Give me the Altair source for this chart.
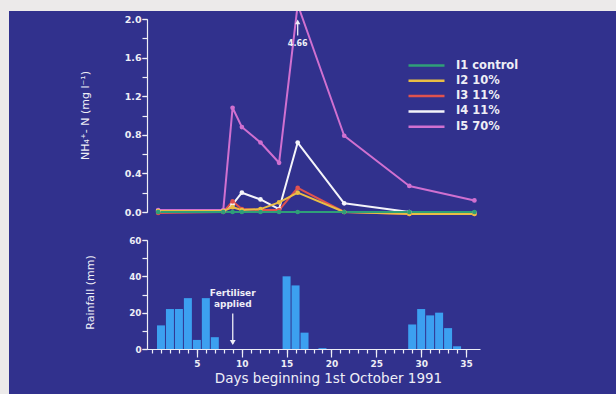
import altair as alt
import pandas as pd

# ---------------- data ----------------
days = [1, 8, 9, 10, 12, 14, 16, 21, 28, 35]
i1_control = [0.0, 0.0, 0.0, 0.0, 0.0, 0.0, 0.0, 0.0, 0.0, 0.0]
i2_10 = [0.01, 0.01, 0.05, 0.02, 0.03, 0.10, 0.20, 0.0, -0.02, -0.02]
i3_11 = [-0.01, 0.0, 0.11, 0.03, 0.02, 0.02, 0.25, 0.0, -0.02, -0.02]
i4_11 = [0.01, 0.01, 0.08, 0.20, 0.13, 0.03, 0.72, 0.09, 0.0, -0.01]
i5_70 = [0.02, 0.02, 1.08, 0.88, 0.72, 0.51, 2.15, 0.79, 0.27, 0.12]  # day-16 peak drawn off-scale
series_names = ["I1 control", "I2 10%", "I3 11%", "I4 11%", "I5 70%"]
series_values = [i1_control, i2_10, i3_11, i4_11, i5_70]
peak_label = "4.66"

rain_days = [1, 2, 3, 4, 5, 6, 7, 15, 16, 17, 19, 29, 30, 31, 32, 33, 34]
rain_mm = [13, 22, 22, 28, 5, 28, 6.5, 40, 35, 9, 0.5, 13.5, 22, 18.5, 20, 11.5, 1.5]

nh4_major = [0.0, 0.4, 0.8, 1.2, 1.6, 2.0]
nh4_minor = [0.0, 0.2, 0.4, 0.6, 0.8, 1.0, 1.2, 1.4, 1.6, 1.8, 2.0]
rain_major = [0, 20, 40, 60]
rain_minor = [0, 10, 20, 30, 40, 50, 60]
day_major = [5, 10, 15, 20, 25, 30, 35]
day_minor = list(range(0, 36))

fert_day = 9
fert_label = "Fertiliser\napplied"

# ---------------- styles ----------------
BG = "#31318d"
FG = "#eeeef6"
FRAME = "#eceaea"
FONT = "DejaVu Sans"
series_colors = ["#2f9f78", "#e9bd45", "#e0524e", "#f4f4fa", "#d070d0"]
BAR = "#3ca0f0"

rows = []
for name, vals in reversed(list(zip(series_names, series_values))):
    for d, v in zip(days, vals):
        rows.append({"day": d, "value": v, "series": name})
nh4 = pd.DataFrame(rows)
rain = pd.DataFrame({"day": rain_days, "mm": rain_mm})

x_up = alt.Scale(domain=[-0.2, 35.6], nice=False, zero=False)
x_low = alt.Scale(domain=[0, 36], nice=False, zero=False)
y_up = alt.Scale(domain=[0, 2], nice=False, zero=False)
y_low = alt.Scale(domain=[0, 60], nice=False, zero=False)

axis_style = dict(domainColor=FG, tickColor=FG, labelColor=FG, titleColor=FG,
                  domainWidth=1.2, tickWidth=1.2, grid=False, labelOverlap=False,
                  labelFont=FONT, titleFont=FONT, labelFontWeight="bold",
                  titleFontWeight="normal")

# ---------------- upper panel ----------------
lines = alt.Chart(nh4).mark_line(
    strokeWidth=2, strokeJoin="round",
    point=alt.OverlayMarkDef(filled=True, size=22, opacity=1)
).encode(
    x=alt.X("day:Q", scale=x_up, axis=None),
    y=alt.Y("value:Q", scale=y_up, axis=alt.Axis(
        orient="left", values=nh4_major, format=".1f",
        tickSize=5, labelPadding=1, labelFontSize=9.5,
        title="NH₄⁺- N (mg l⁻¹)", titleFontSize=11, titleX=-62, titleY=96,
        titleBaseline="middle", titleAlign="center", **axis_style)),
    color=alt.Color("series:N", scale=alt.Scale(domain=series_names, range=series_colors),
                    legend=alt.Legend(orient="none", legendX=260, legendY=40, title=None,
                                      symbolType="stroke", symbolSize=1296, symbolStrokeWidth=2.5,
                                      symbolOpacity=1, labelFont=FONT, labelFontSize=11.5,
                                      labelFontWeight="bold", labelColor=FG, clipHeight=13,
                                      rowPadding=2.3, labelOffset=10, padding=0)),
)

up_minor = alt.Chart(nh4).mark_point(opacity=0).encode(
    x=alt.X("day:Q", scale=x_up, axis=None),
    y=alt.Y("value:Q", scale=y_up, axis=alt.Axis(
        orient="left", values=nh4_minor, tickSize=5, labels=False, domain=False,
        title=None, **axis_style)),
)

peak = pd.DataFrame({"day": [16], "label": [peak_label]})
xp = alt.X("day:Q", scale=x_up, axis=None)
peak_stem = alt.Chart(peak).mark_rule(color=FG, strokeWidth=1.3).encode(
    x=xp, y=alt.datum(1.83, scale=y_up, axis=None), y2=alt.datum(1.96))
peak_head = alt.Chart(peak).mark_point(shape="triangle-up", filled=True, size=28,
                                       color=FG, opacity=1).encode(
    x=xp, y=alt.datum(1.97, scale=y_up, axis=None))
peak_text = alt.Chart(peak).mark_text(font=FONT, fontSize=8, fontWeight="bold",
                                      color=FG, baseline="middle").encode(
    x=xp, y=alt.datum(1.74, scale=y_up, axis=None), text="label:N")

frame = alt.Chart(pd.DataFrame({"k": [0]})).mark_rect(color=FRAME)
top_band = frame.encode(x=alt.value(-147), x2=alt.value(469), y=alt.value(-19), y2=alt.value(-8))
left_band = frame.encode(x=alt.value(-147), x2=alt.value(-138), y=alt.value(-19), y2=alt.value(375))

upper = alt.layer(lines, up_minor, peak_stem, peak_head, peak_text, top_band, left_band
                  ).resolve_axis(y="independent").properties(width=333, height=193)

# ---------------- lower panel ----------------
bars = alt.Chart(rain).mark_bar(size=8, color=BAR).encode(
    x=alt.X("day:Q", scale=x_low, axis=alt.Axis(
        orient="bottom", values=day_major,
        tickSize=8, labelPadding=2, labelFontSize=9, domain=False,
        title="Days beginning 1st October 1991", titleFontSize=13.5,
        titleX=181, titleY=22, titleBaseline="top", titleAlign="center", **axis_style)),
    y=alt.Y("mm:Q", scale=y_low, axis=alt.Axis(
        orient="left", values=rain_major,
        tickSize=5, labelPadding=1, labelFontSize=8.8,
        title="Rainfall (mm)", titleFontSize=11, titleX=-57, titleY=52,
        titleBaseline="middle", titleAlign="center", **axis_style)),
)

low_minor = alt.Chart(rain).mark_point(opacity=0).encode(
    x=alt.X("day:Q", scale=x_low, axis=alt.Axis(
        orient="bottom", values=day_minor, tickSize=4, labels=False, title=None, **axis_style)),
    y=alt.Y("mm:Q", scale=y_low, axis=alt.Axis(
        orient="left", values=rain_minor, tickSize=5, labels=False, domain=False,
        title=None, **axis_style)),
)

fert = pd.DataFrame({"day": [fert_day], "label": [fert_label]})
xf = alt.X("day:Q", scale=x_low, axis=None)
fert_stem = alt.Chart(fert).mark_rule(color=FG, strokeWidth=1.3).encode(
    x=xf, y=alt.datum(19.5, scale=y_low, axis=None), y2=alt.datum(3))
fert_head = alt.Chart(fert).mark_point(shape="triangle-down", filled=True, size=34,
                                       color=FG, opacity=1).encode(
    x=xf, y=alt.datum(3.6, scale=y_low, axis=None))
fert_text = alt.Chart(fert).mark_text(font=FONT, fontSize=9, fontWeight="bold", color=FG,
                                      baseline="middle", lineBreak="\n", lineHeight=11).encode(
    x=xf, y=alt.datum(31, scale=y_low, axis=None), text="label:N")

lower = alt.layer(bars, low_minor, fert_stem, fert_head, fert_text).resolve_axis(
    x="independent", y="independent").properties(width=333, height=109)

chart = alt.vconcat(upper, lower, spacing=28, bounds="flush").properties(
    padding=0
).configure(background=BG).configure_view(strokeWidth=0)

chart.save("out.html", embed_options={"renderer": "svg", "actions": False})
